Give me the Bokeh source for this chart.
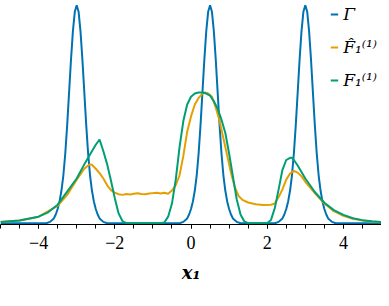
from bokeh.plotting import figure
from bokeh.models import Legend, LegendItem, SingleIntervalTicker, Range1d
from bokeh.embed import file_html
from bokeh.resources import INLINE

# ---- data ----
gamma_x = [-5.0,
           -3.8, -3.7, -3.6, -3.55, -3.5, -3.45, -3.4, -3.35, -3.3, -3.25, -3.2, -3.15, -3.1, -3.05, -3.0,
           -2.95, -2.9, -2.85, -2.8, -2.75, -2.7, -2.65, -2.6, -2.55, -2.5, -2.45, -2.4, -2.3, -2.2,
           -0.3, -0.2, -0.1, -0.05, 0.0, 0.05, 0.1, 0.15, 0.2, 0.25, 0.3, 0.35, 0.4, 0.45, 0.5,
           0.55, 0.6, 0.65, 0.7, 0.75, 0.8, 0.85, 0.9, 0.95, 1.0, 1.05, 1.1, 1.2, 1.3,
           2.2, 2.3, 2.4, 2.45, 2.5, 2.55, 2.6, 2.65, 2.7, 2.75, 2.8, 2.85, 2.9, 2.95, 3.0,
           3.05, 3.1, 3.15, 3.2, 3.25, 3.3, 3.35, 3.4, 3.45, 3.5, 3.55, 3.6, 3.7, 3.8,
           5.0]
gamma_y = [0.0,
           0.0, 0.006, 0.022, 0.04, 0.065, 0.1, 0.15, 0.22, 0.32, 0.45, 0.6, 0.75, 0.88, 0.97, 1.0,
           0.97, 0.88, 0.75, 0.6, 0.45, 0.32, 0.22, 0.15, 0.1, 0.065, 0.04, 0.022, 0.006, 0.0,
           0.0, 0.006, 0.022, 0.04, 0.065, 0.1, 0.15, 0.22, 0.32, 0.45, 0.6, 0.75, 0.88, 0.97, 1.0,
           0.97, 0.88, 0.75, 0.6, 0.45, 0.32, 0.22, 0.15, 0.1, 0.065, 0.04, 0.022, 0.006, 0.0,
           0.0, 0.006, 0.022, 0.04, 0.065, 0.1, 0.15, 0.22, 0.32, 0.45, 0.6, 0.75, 0.88, 0.97, 1.0,
           0.97, 0.88, 0.75, 0.6, 0.45, 0.32, 0.22, 0.15, 0.1, 0.065, 0.04, 0.022, 0.006, 0.0,
           0.0]

fhat_x = [-5.0, -4.5, -4.0, -3.5, -3.25, -3.0, -2.9, -2.8, -2.7, -2.65, -2.6, -2.5, -2.4, -2.3,
          -2.2, -2.1, -2.0, -1.9, -1.8, -1.7, -1.6, -1.5, -1.4, -1.3, -1.2, -1.1, -1.0, -0.9,
          -0.8, -0.7, -0.6, -0.5, -0.4, -0.3, -0.2, -0.1, 0.0, 0.1, 0.2, 0.3, 0.37, 0.45, 0.55,
          0.65, 0.75, 0.85, 0.95, 1.05, 1.15, 1.25, 1.35, 1.5, 1.7, 1.9, 2.1, 2.2, 2.3, 2.4,
          2.5, 2.6, 2.7, 2.8, 2.9, 3.0, 3.25, 3.5, 3.75, 4.0, 4.25, 4.5, 4.75, 5.0]
fhat_y = [0.005, 0.012, 0.03, 0.08, 0.13, 0.2, 0.225, 0.25, 0.265, 0.27, 0.268, 0.25, 0.23, 0.205,
          0.174, 0.152, 0.14, 0.133, 0.13, 0.134, 0.132, 0.135, 0.137, 0.134, 0.133, 0.136, 0.138, 0.14,
          0.136, 0.14, 0.135, 0.15, 0.175, 0.22, 0.31, 0.42, 0.49, 0.545, 0.575, 0.595, 0.6, 0.595, 0.58,
          0.53, 0.47, 0.39, 0.31, 0.23, 0.165, 0.125, 0.107, 0.095, 0.087, 0.084, 0.085, 0.09, 0.12, 0.155,
          0.2, 0.228, 0.24, 0.232, 0.215, 0.19, 0.138, 0.09, 0.055, 0.034, 0.02, 0.012, 0.007, 0.004]

f_x = [-5.0, -4.5, -4.0, -3.75, -3.5, -3.25, -3.0, -2.8, -2.6, -2.5, -2.4, -2.3, -2.2, -2.1,
       -2.0, -1.9, -1.8, -1.7, -0.8, -0.7, -0.6, -0.5, -0.4, -0.3, -0.2, -0.1, 0.0, 0.1, 0.2, 0.3,
       0.4, 0.5, 0.6, 0.7, 0.8, 0.9, 1.0, 1.1, 1.2, 1.3, 1.4, 1.5, 2.0, 2.1, 2.2, 2.3, 2.4, 2.5,
       2.6, 2.65, 2.7, 2.8, 2.9, 3.0, 3.25, 3.5, 3.75, 4.0, 4.25, 4.5, 4.75, 5.0]
f_y = [0.005, 0.012, 0.03, 0.05, 0.085, 0.145, 0.205, 0.27, 0.33, 0.36, 0.384, 0.33, 0.27, 0.195,
       0.115, 0.045, 0.01, 0.0, 0.0, 0.003, 0.03, 0.09, 0.2, 0.35, 0.47, 0.545, 0.58, 0.595, 0.6, 0.6,
       0.595, 0.585, 0.56, 0.525, 0.475, 0.415, 0.32, 0.215, 0.11, 0.04, 0.008, 0.0, 0.0, 0.015, 0.07, 0.155, 0.245, 0.29,
       0.3, 0.3, 0.29, 0.265, 0.235, 0.205, 0.143, 0.094, 0.06, 0.038, 0.023, 0.014, 0.009, 0.005]

labels = ["Γ", "F̂₁⁽¹⁾", "F₁⁽¹⁾"]
colors = ["#0072B2", "#E69F00", "#009E73"]
tick_overrides = {-4: "−4", -2: "−2", 0: "0", 2: "2", 4: "4"}

# ---- figure ----
p = figure(width=381, height=298, output_backend="svg", toolbar_location=None,
           x_range=Range1d(-5, 5), y_range=Range1d(-0.006, 1.022),
           y_axis_location=None, min_border_left=0, min_border_right=0,
           min_border_top=0, min_border_bottom=74)
p.outline_line_color = None
p.xgrid.visible = False
p.ygrid.visible = False
p.background_fill_color = "white"

r1 = p.line(gamma_x, gamma_y, line_color=colors[0], line_width=2)
r2 = p.line(fhat_x, fhat_y, line_color=colors[1], line_width=2)
r3 = p.line(f_x, f_y, line_color=colors[2], line_width=2)

ax = p.xaxis[0]
ax.ticker = SingleIntervalTicker(interval=2, num_minor_ticks=4)
ax.major_label_overrides = tick_overrides
ax.axis_line_color = "black"
ax.axis_line_width = 1
ax.major_tick_out = 4
ax.major_tick_in = 0
ax.minor_tick_out = 4
ax.minor_tick_in = 0
ax.major_tick_line_color = "black"
ax.minor_tick_line_color = "black"
ax.major_label_text_font = "Liberation Serif"
ax.major_label_text_font_size = "18px"
ax.major_label_text_color = "black"
ax.major_label_standoff = 7
ax.axis_label = "x₁"
ax.axis_label_text_font = "DejaVu Serif"
ax.axis_label_text_font_style = "bold italic"
ax.axis_label_text_font_size = "18px"
ax.axis_label_text_color = "black"
ax.axis_label_standoff = 10

legend = Legend(items=[LegendItem(label=labels[0], renderers=[r1]),
                       LegendItem(label=labels[1], renderers=[r2]),
                       LegendItem(label=labels[2], renderers=[r3])],
                location="top_right")
legend.background_fill_alpha = 0
legend.border_line_alpha = 0
legend.glyph_width = 8
legend.glyph_height = 20
legend.label_height = 20
legend.spacing = 13
legend.label_standoff = 5
legend.padding = 0
legend.margin = 4
legend.label_text_font = "DejaVu Serif"
legend.label_text_font_style = "italic"
legend.label_text_font_size = "17px"
legend.label_text_color = "black"
p.add_layout(legend)

open("out.html", "w").write(file_html(p, INLINE))
